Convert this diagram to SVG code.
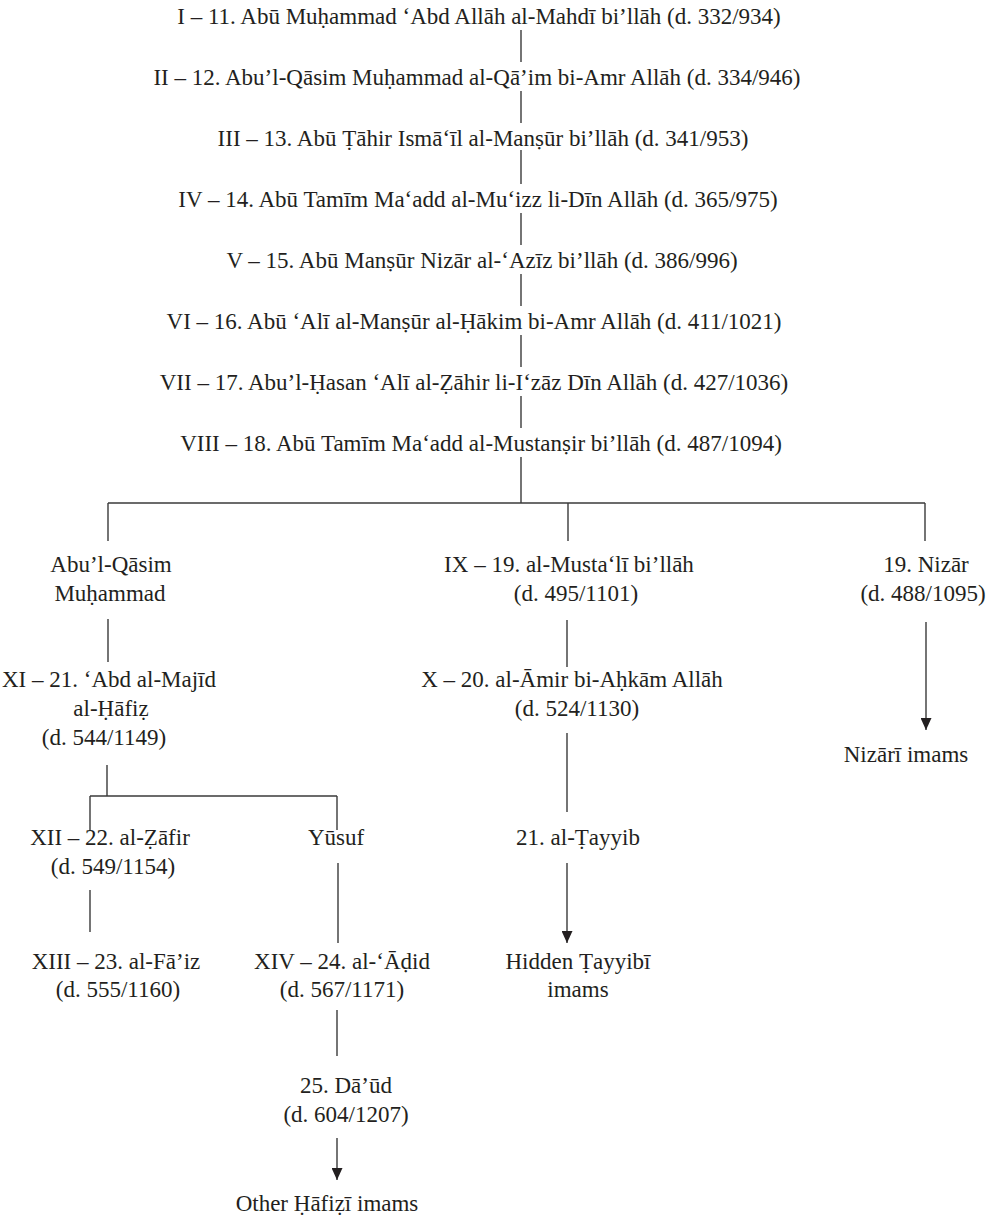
<svg xmlns="http://www.w3.org/2000/svg" width="998" height="1217" viewBox="0 0 998 1217">
<style>
text{font-family:"Liberation Serif","DejaVu Serif",serif;font-size:23px;fill:#231f20;text-anchor:middle}
.c line{stroke:#3a3a3a;stroke-width:1.4;fill:none}
</style>
<defs>
<marker id="ah" viewBox="0 0 12 11" refX="12" refY="5.5" markerWidth="12" markerHeight="11" markerUnits="userSpaceOnUse" orient="auto">
<path d="M0,0 L12,5.5 L0,11 z" fill="#231f20"/>
</marker>
</defs>
<rect width="998" height="1217" fill="#fff"/>
<g class="c" id="connectors">
<line x1="521" y1="30" x2="521" y2="62"/>
<line x1="521" y1="91" x2="521" y2="123"/>
<line x1="521" y1="150" x2="521" y2="184"/>
<line x1="521" y1="213" x2="521" y2="245"/>
<line x1="521" y1="274" x2="521" y2="306"/>
<line x1="521" y1="335" x2="521" y2="367"/>
<line x1="521" y1="396" x2="521" y2="428"/>
<line x1="521" y1="457" x2="521" y2="503"/>
<line x1="108" y1="503" x2="925" y2="503"/>
<line x1="108" y1="503" x2="108" y2="541"/>
<line x1="568" y1="503" x2="568" y2="541"/>
<line x1="925" y1="503" x2="925" y2="541"/>
<line x1="108" y1="619" x2="108" y2="662"/>
<line x1="107" y1="765" x2="107" y2="796"/>
<line x1="90" y1="796" x2="337" y2="796"/>
<line x1="90" y1="796" x2="90" y2="830"/>
<line x1="337" y1="796" x2="337" y2="830"/>
<line x1="90" y1="890" x2="90" y2="932"/>
<line x1="338" y1="863" x2="338" y2="943"/>
<line x1="337" y1="1010" x2="337" y2="1056"/>
<line x1="337" y1="1138" x2="337" y2="1180" marker-end="url(#ah)"/>
<line x1="567" y1="620" x2="567" y2="667"/>
<line x1="567" y1="733" x2="567" y2="812"/>
<line x1="567" y1="863" x2="567" y2="943" marker-end="url(#ah)"/>
<line x1="926" y1="622" x2="926" y2="730" marker-end="url(#ah)"/>
</g>
<g id="n1"><text x="479" y="24">I – 11. Abū Muḥammad ‘Abd Allāh al-Mahdī bi’llāh (d. 332/934)</text></g>
<g id="n2"><text x="477" y="85">II – 12. Abu’l-Qāsim Muḥammad al-Qā’im bi-Amr Allāh (d. 334/946)</text></g>
<g id="n3"><text x="483" y="146">III – 13. Abū Ṭāhir Ismā‘īl al-Manṣūr bi’llāh (d. 341/953)</text></g>
<g id="n4"><text x="478" y="207">IV – 14. Abū Tamīm Ma‘add al-Mu‘izz li-Dīn Allāh (d. 365/975)</text></g>
<g id="n5"><text x="482" y="268">V – 15. Abū Manṣūr Nizār al-‘Azīz bi’llāh (d. 386/996)</text></g>
<g id="n6"><text x="474" y="329">VI – 16. Abū ‘Alī al-Manṣūr al-Ḥākim bi-Amr Allāh (d. 411/1021)</text></g>
<g id="n7"><text x="474" y="390">VII – 17. Abu’l-Ḥasan ‘Alī al-Ẓāhir li-I‘zāz Dīn Allāh (d. 427/1036)</text></g>
<g id="n8"><text x="481" y="451">VIII – 18. Abū Tamīm Ma‘add al-Mustanṣir bi’llāh (d. 487/1094)</text></g>
<g id="abulqasim"><text x="111" y="572">Abu’l-Qāsim</text><text x="110" y="601">Muḥammad</text></g>
<g id="mustali"><text x="569" y="572">IX – 19. al-Musta‘lī bi’llāh</text><text x="576" y="601">(d. 495/1101)</text></g>
<g id="nizar"><text x="926" y="572">19. Nizār</text><text x="923" y="601">(d. 488/1095)</text></g>
<g id="nizari-imams"><text x="906" y="762">Nizārī imams</text></g>
<g id="hafiz"><text x="109" y="687">XI – 21. ‘Abd al-Majīd</text><text x="111" y="716">al-Ḥāfiẓ</text><text x="104" y="745">(d. 544/1149)</text></g>
<g id="amir"><text x="572" y="687">X – 20. al-Āmir bi-Aḥkām Allāh</text><text x="577" y="716">(d. 524/1130)</text></g>
<g id="zafir"><text x="110" y="845">XII – 22. al-Ẓāfir</text><text x="113" y="874">(d. 549/1154)</text></g>
<g id="yusuf"><text x="336" y="845">Yūsuf</text></g>
<g id="tayyib"><text x="578" y="845">21. al-Ṭayyib</text></g>
<g id="faiz"><text x="116" y="969">XIII – 23. al-Fā’iz</text><text x="118" y="997">(d. 555/1160)</text></g>
<g id="adid"><text x="342" y="969">XIV – 24. al-‘Āḍid</text><text x="342" y="997">(d. 567/1171)</text></g>
<g id="hidden"><text x="578" y="969">Hidden Ṭayyibī</text><text x="578" y="997">imams</text></g>
<g id="daud"><text x="346" y="1093">25. Dā’ūd</text><text x="346" y="1122">(d. 604/1207)</text></g>
<g id="other-hafizi"><text x="327" y="1211">Other Ḥāfiẓī imams</text></g>
</svg>
